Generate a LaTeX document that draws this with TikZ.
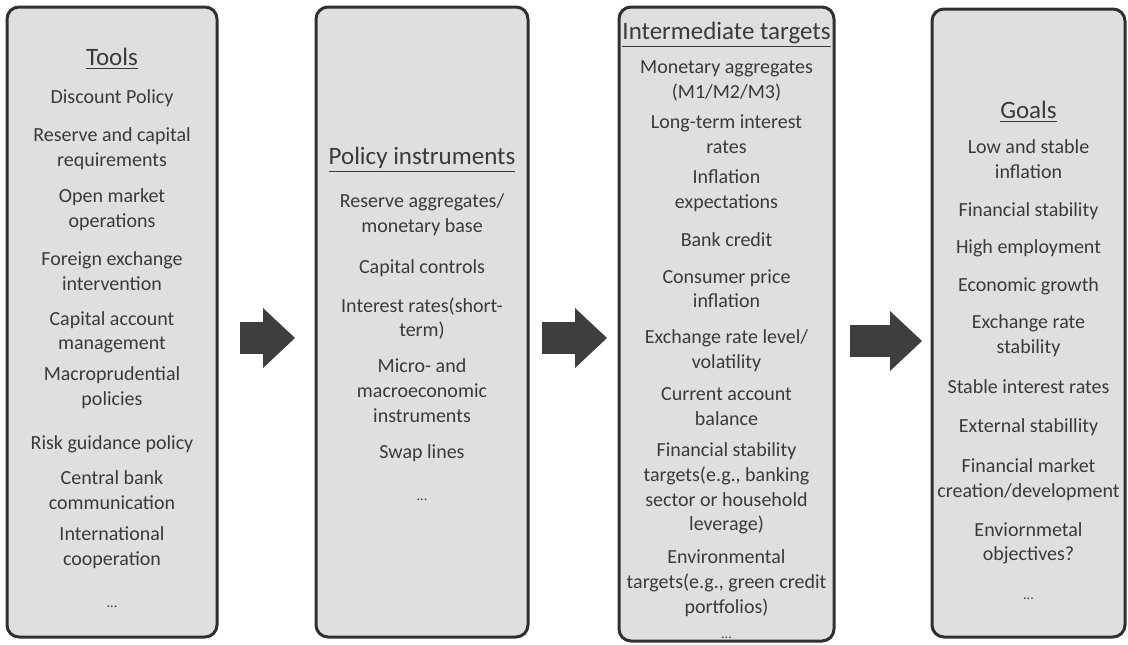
\documentclass[tikz,border=0pt]{standalone}
\usepackage{fontspec}
\setmainfont{Carlito}
\usetikzlibrary{positioning, arrows.meta}
\definecolor{panelfill}{RGB}{223,223,223}
\definecolor{panelline}{RGB}{48,48,48}
\definecolor{textgray}{RGB}{58,58,58}
\definecolor{arrowgray}{RGB}{62,62,62}
\newcommand{\paneltitle}[1]{{\fontsize{12.5}{15}\selectfont\underline{#1}}}
\newcommand{\moredots}{{\fontsize{7}{8}\selectfont ...}}
\tikzset{
    panel/.style={draw=panelline, fill=panelfill, line width=1.5pt, rounded corners=6pt, inner sep=0pt, outer sep=0pt}, % the grey boxes
    content/.style={align=center, text=textgray, inner sep=0pt, font=\fontsize{10}{12.4}\selectfont}, % text in a box
    flow/.style={draw=arrowgray, line width=16pt, -{Triangle[length=16pt, width=30pt, line width=0pt]}}, % the big block arrows
}
\begin{document}
\begin{tikzpicture}[x=0.5pt, y=-0.5pt]
    \useasboundingbox (0,0) rectangle (1128,644);
    % the four boxes
    \node[panel, minimum width=105pt, minimum height=315pt] (tools) at (112,322) {};
    \node[panel, minimum width=106pt, minimum height=315pt, right=49.5pt of tools] (instruments) {};
    \node[panel, minimum width=107.5pt, minimum height=317pt, right=45.5pt of instruments, yshift=-1pt] (targets) {};
    \node[panel, minimum width=96.5pt, minimum height=314pt, right=49pt of targets, yshift=0.5pt] (goals) {};
    % their texts
    \node[content, below=20.5pt of tools.north] (toolstext) {%
        \paneltitle{Tools}\\[6.6pt]
        Discount Policy\\[6.6pt]
        Reserve and capital\\requirements\\[5.6pt]
        Open market\\operations\\[6.6pt]
        Foreign exchange\\intervention\\[5.1pt]
        Capital account\\management\\[3.1pt]
        Macroprudential\\policies\\[9.6pt]
        Risk guidance policy\\[5.1pt]
        Central bank\\communication\\[3.1pt]
        International\\cooperation\\[8.5pt]
        \moredots};
    \node[content, below=70pt of instruments.north] (instrumentstext) {%
        \paneltitle{Policy instruments}\\[9.1pt]
        Reserve aggregates/\\monetary base\\[8pt]
        Capital controls\\[7pt]
        Interest rates(short-\\term)\\[5.5pt]
        Micro- and\\macroeconomic\\instruments\\[5.5pt]
        Swap lines\\[8.6pt]
        \moredots};
    \node[content, below=7.5pt of targets.north] (targetstext) {%
        \paneltitle{Intermediate targets}\\[4.6pt]
        Monetary aggregates\\(M1/M2/M3)\\[2.6pt]
        Long-term interest\\rates\\[2.6pt]
        Inflation\\expectations\\[6.6pt]
        Bank credit\\[6.1pt]
        Consumer price\\inflation\\[5.6pt]
        Exchange rate level/\\volatility\\[3.6pt]
        Current account\\balance\\[3.1pt]
        Financial stability\\targets(e.g., banking\\sector or household\\leverage)\\[4.1pt]
        Environmental\\targets(e.g., green credit\\portfolios)\\[0.1pt]
        \moredots};
    \node[content, below=46pt of goals.north] (goalstext) {%
        \paneltitle{Goals}\\[5.1pt]
        Low and stable\\inflation\\[6.4pt]
        Financial stability\\[6.4pt]
        High employment\\[6.4pt]
        Economic growth\\[6.4pt]
        Exchange rate\\stability\\[7.4pt]
        Stable interest rates\\[7.4pt]
        External stabillity\\[7.4pt]
        Financial market\\creation/development\\[7pt]
        Enviornmetal\\objectives?\\[7pt]
        \moredots};
    % arrows between the boxes
    \draw[flow, shorten <=11.5pt, shorten >=10.5pt] ([yshift=-8pt]tools.east) -- ([yshift=-8pt]instruments.west);
    \draw[flow, shorten <=7pt, shorten >=6pt] ([yshift=-8pt]instruments.east) -- ([yshift=-8pt]targets.west |- instruments.east);
    \draw[flow, shorten <=8pt, shorten >=5pt] ([yshift=-9.5pt]targets.east |- instruments.east) -- ([yshift=-9.5pt]goals.west |- instruments.east);
\end{tikzpicture}
\end{document}
